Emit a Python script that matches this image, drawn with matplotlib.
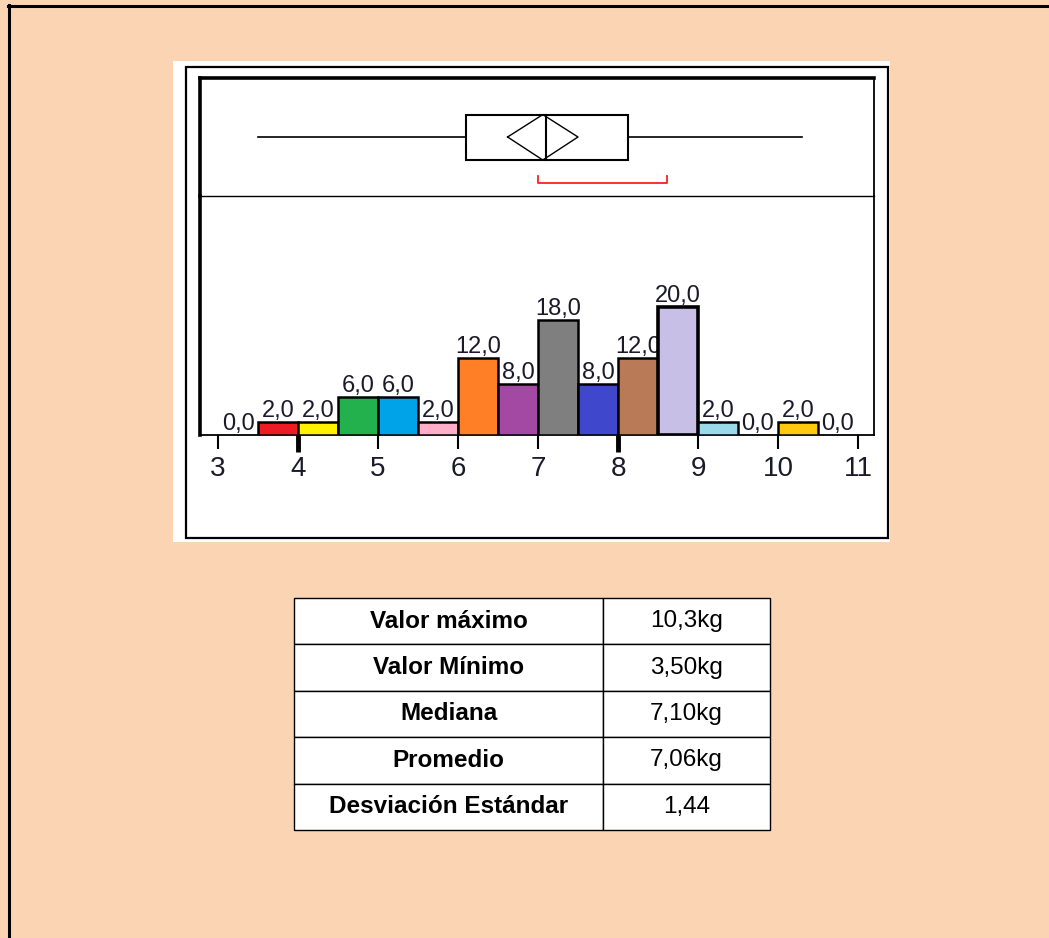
import matplotlib
matplotlib.use('Agg')
import matplotlib.pyplot as plt
from matplotlib.patches import Rectangle
from matplotlib.lines import Line2D

plt.rcParams['font.family'] = ['Liberation Sans', 'DejaVu Sans']

# --- histogram data (bins of 0.5 kg) ---
bin_left = [3.0, 3.5, 4.0, 4.5, 5.0, 5.5, 6.0, 6.5, 7.0, 7.5, 8.0, 8.5, 9.0, 9.5, 10.0, 10.5]
pct = [0, 2, 2, 6, 6, 2, 12, 8, 18, 8, 12, 20, 2, 0, 2, 0]
bar_colors = ['#ffffff', '#ED1C24', '#FFF200', '#22B14C', '#00A2E8', '#FFAEC9',
              '#FF7F27', '#A349A4', '#7F7F7F', '#3F48CC', '#B97A57', '#C8BFE7',
              '#99D9EA', '#ffffff', '#FFC90E', '#ffffff']
tick_vals = [3, 4, 5, 6, 7, 8, 9, 10, 11]

# --- box plot summary ---
whisker_lo, whisker_hi = 3.5, 10.3
q1, q3 = 6.1, 8.12
median = 7.10
mean = 7.06
mean_ci = 0.44
shortest_half = (7.0, 8.61)

# --- summary table ---
stat_names = ['Valor máximo', 'Valor Mínimo', 'Mediana', 'Promedio', 'Desviación Estándar']
stat_values = ['10,3kg', '3,50kg', '7,10kg', '7,06kg', '1,44']

W, H = 1049, 938
fig = plt.figure(figsize=(W / 100, H / 100), dpi=100)
fig.patch.set_facecolor('#FBD4B4')


def px_box(x0, y0, x1, y1):
    return [x0 / W, 1 - y1 / H, (x1 - x0) / W, (y1 - y0) / H]


# page borders
fig.add_artist(Line2D([8 / W, 1], [1 - 6 / H, 1 - 6 / H], color='black', lw=2.2,
                      transform=fig.transFigure))
fig.add_artist(Line2D([9 / W, 9 / W], [0, 1 - 5 / H], color='black', lw=2.2,
                      transform=fig.transFigure))

# white panel + frame behind the chart
fig.add_artist(Rectangle((173 / W, 1 - 542 / H), (890 - 173) / W, (542 - 61) / H,
                         facecolor='white', edgecolor='none', transform=fig.transFigure, zorder=0))
fig.add_artist(Rectangle((186 / W, 1 - 538 / H), (888 - 186) / W, (538 - 67) / H,
                         facecolor='none', edgecolor='black', lw=1.6, transform=fig.transFigure, zorder=0.5))

xlo = 3 - 18 / 80
xhi = xlo + 674 / 80

# histogram
ax = fig.add_axes(px_box(200, 196, 874, 435))
ax.set_facecolor('none')
ax.set_xlim(xlo, xhi)
ax.set_ylim(0, 239 / 6.4)
for i, (x, v, c) in enumerate(zip(bin_left, pct, bar_colors)):
    if v > 0:
        ax.bar(x, v, width=0.5, align='edge', color=c, edgecolor='black',
               lw=2.6 if v == max(pct) else 1.8, zorder=2 + 2 * i)
    lbl = f'{v:.1f}'.replace('.', ',')
    ax.annotate(lbl, (x + 0.25, v), xytext=(0, 3.5), textcoords='offset points',
                ha='center', va='baseline', fontsize=17, color='#1a1a2a', zorder=3 + 2 * i)

ax.set_yticks([])
ax.set_xticks(tick_vals)
ax.set_xticklabels([str(t) for t in tick_vals])
ax.tick_params(axis='x', direction='out', length=10, width=1.5, labelsize=20, pad=5,
               labelcolor='#1a1a2a')
for t, val in zip(ax.xaxis.get_major_ticks(), tick_vals):
    if val in (4, 8):
        t.tick1line.set_markeredgewidth(3.5)
        t.tick1line.set_markersize(12.5)
ax.spines['top'].set_visible(False)
ax.spines['left'].set_linewidth(2.6)
ax.spines['right'].set_linewidth(1.3)
ax.spines['bottom'].set_linewidth(1.3)

# box plot strip
bx = fig.add_axes(px_box(200, 78, 874, 196))
bx.set_facecolor('none')
bx.set_xlim(xlo, xhi)
bx.set_ylim(0, 1)
bx.set_xticks([])
bx.set_yticks([])
bx.spines['left'].set_linewidth(2.6)
bx.spines['top'].set_linewidth(2.6)
bx.spines['right'].set_linewidth(1.3)
bx.spines['bottom'].set_linewidth(1.0)

b_lo, b_hi = 0.305, 0.69
bx.plot([whisker_lo, q1], [0.5, 0.5], color='black', lw=1.2)
bx.plot([q3, whisker_hi], [0.5, 0.5], color='black', lw=1.2)
bx.add_patch(Rectangle((q1, b_lo), q3 - q1, b_hi - b_lo, facecolor='none',
                       edgecolor='black', lw=1.5))
bx.plot([median, median], [b_lo, b_hi], color='black', lw=1.5)
bx.plot([mean - mean_ci, mean, mean + mean_ci, mean, mean - mean_ci],
        [0.5, b_hi, 0.5, b_lo, 0.5], color='black', lw=1.0)
bx.plot([shortest_half[0], shortest_half[0], shortest_half[1], shortest_half[1]],
        [0.17, 0.11, 0.11, 0.17], color='#ff2020', lw=1.3)

# summary table
tx = fig.add_axes(px_box(294, 598, 770, 830))
tx.axis('off')
tbl = tx.table(cellText=[[n, v] for n, v in zip(stat_names, stat_values)],
               colWidths=[309 / 476, 167 / 476], bbox=[0, 0, 1, 1], cellLoc='center')
tbl.auto_set_font_size(False)
for (r, c), cell in tbl.get_celld().items():
    cell.set_facecolor('white')
    cell.set_edgecolor('black')
    cell.set_linewidth(1.0)
    cell.get_text().set_fontsize(17.5)
    if c == 0:
        cell.get_text().set_fontweight('bold')

fig.savefig('out.png', dpi=100, facecolor=fig.get_facecolor())
